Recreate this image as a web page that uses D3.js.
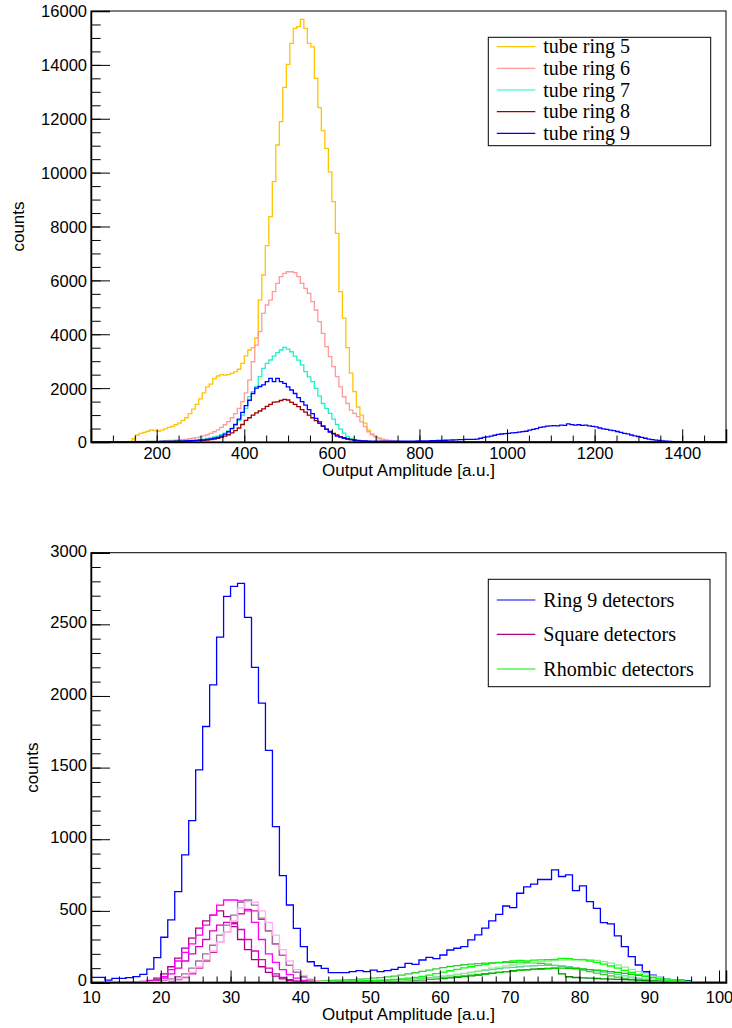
<!DOCTYPE html>
<html>
<head>
<meta charset="utf-8">
<script src="https://cdn.jsdelivr.net/npm/d3@7"></script>
<style>
  body { margin: 0; background: #fff; }
  .ax text { font-family: "Liberation Sans", Arial, sans-serif; font-size: 16.5px; fill: #000; }
  .ax path, .ax line { stroke: #000; }
  .ttl { font-family: "Liberation Sans", Arial, sans-serif; font-size: 17px; fill: #000; }
  .leg { font-family: "Liberation Serif", "Times New Roman", serif; font-size: 20px; fill: #000; }
</style>
</head>
<body>
<div id="chart"></div>
<script>
// ---------- top panel: tube rings (bins of 8 a.u.) ----------
var ringBin = 8;
var ringNames = ['tube ring 5', 'tube ring 6', 'tube ring 7', 'tube ring 8', 'tube ring 9'];
var ringColors = ['#ffc400', '#ff9a9a', '#22f0c8', '#a00000', '#0000ff'];
var ringStart = [136, 104, 104, 104, 104];
var ring5 = [20,120,260,320,360,400,450,420,400,440,490,540,580,640,700,800,900,1050,1220,1400,
  1600,1820,2050,2150,2350,2450,2500,2480,2500,2550,2600,2700,2920,3200,3415,3500,3860,5270,6200,7290,
  8365,9665,11025,11890,13165,14020,14800,15355,15420,15690,15355,14800,14670,13500,12410,11560,10900,10030,8920,7745,
  5580,4600,3500,2560,1870,1300,1000,700,440,300,200,120,70,40,20,10];
var ring6 = [5,8,10,12,15,18,20,22,25,28,30,35,40,45,50,55,60,70,80,90,
  100,120,140,160,190,230,270,320,380,450,540,640,760,900,1050,1250,1500,1820,2300,2980,
  3600,4095,4775,5085,5270,5580,5890,6140,6260,6320,6320,6290,6140,5890,5700,5520,5210,4900,4465,4030,
  3540,3170,2800,2425,2050,1680,1430,1185,1060,940,750,570,380,270,200,150,110,80,60,40,
  30,20,15,10,5];
var ring7 = [5,5,6,7,8,10,12,14,16,18,20,22,25,28,30,33,36,40,45,50,
  56,63,72,82,95,110,130,155,185,220,270,330,410,510,640,800,1000,1250,1683,1870,
  2054,2425,2734,2920,3044,3190,3315,3415,3514,3450,3350,3190,3040,2860,2610,2420,2240,1990,1700,1430,
  1250,1060,850,650,480,330,210,130,80,50,30,20,12,8,5];
var ring8 = [3,4,5,5,6,7,8,9,10,11,12,13,15,17,19,21,23,26,29,32,
  36,40,45,50,55,62,70,85,105,136,175,220,270,340,420,520,650,800,900,1000,
  1080,1150,1230,1320,1400,1480,1490,1540,1580,1560,1470,1400,1310,1200,1110,1000,900,790,690,580,
  470,390,320,260,200,160,120,90,70,50,40,30,20,15,10,8,6,5];
var ring9 = [3,4,5,6,7,8,9,10,11,12,13,15,17,19,21,23,26,29,32,36,
  40,46,52,60,70,82,97,115,140,175,220,290,380,500,650,850,1100,1350,1550,1800,
  2000,2060,2120,2240,2360,2240,2360,2240,2180,2050,1930,1800,1650,1500,1370,1200,1050,880,750,600,
  480,370,300,220,180,140,110,90,70,55,45,40,36,34,32,30,30,29,29,30,
  30,31,32,33,34,36,38,40,42,45,48,52,56,60,65,70,75,80,85,90,
  95,98,100,110,140,170,190,220,250,280,297,310,320,340,350,370,384,400,440,470,
  500,540,560,590,600,610,600,625,620,670,645,630,640,620,630,600,580,560,520,490,
  470,440,420,390,360,320,300,260,230,200,170,140,110,85,70,55,40,30,20,12,
  8,5,3];
var ringCounts = [ring5, ring6, ring7, ring8, ring9];
var topXMajor = [200, 400, 600, 800, 1000, 1200, 1400];
var topYMajor = [0, 2000, 4000, 6000, 8000, 10000, 12000, 14000, 16000];

// ---------- bottom panel: detectors (bins of 1 a.u.) ----------
var detBin = 1;
var legNames = ['Ring 9 detectors', 'Square detectors', 'Rhombic detectors'];
var legColors = ['#0000ff', '#b0007a', '#00ee00'];
var ring9Start = 10;
var ring9Det = [36,36,17,29,29,34,41,57,94,173,
  316,437,634,891,1130,1484,1787,2078,2411,2695,
  2765,2786,2548,2200,1950,1620,1088,746,541,378,
  250,145,117,99,69,69,69,76,83,76,
  87,76,83,92,106,134,127,157,176,167,
  192,227,239,250,297,332,380,430,476,534,
  523,623,667,686,719,719,786,740,751,641,
  674,565,518,418,409,325,250,180,122,75,
  52,36,24,17,17,13,6,4,4,6,3];
var squareStart = 15;
var squareColors = ['#aa0088', '#dd00cc', '#ff00ff', '#cc2299', '#a070a0', '#ffb0f0'];
var square1 = [2,4,8,15,30,60,110,170,240,310,380,430,470,500,460,390,300,230,160,110,70,45,25,15,8,4,2,1];
var square2 = [1,2,4,8,15,30,60,100,150,200,250,300,360,400,420,410,370,300,220,160,100,60,35,20,10,5,3,1];
var square3 = [2,3,5,10,20,40,90,150,210,270,330,400,470,540,576,576,570,500,420,300,200,140,90,55,30,15,8,4,2];
var square4 = [0,0,1,2,3,6,12,20,35,60,100,150,210,280,350,420,480,510,500,440,360,270,190,120,70,40,20,10,5,2];
var square5 = [0,1,2,4,8,15,25,40,60,100,150,200,260,330,400,470,560,576,540,450,360,270,190,120,70,40,20,10,5,2];
var square6 = [0,0,1,2,4,8,15,25,40,70,110,160,220,280,350,430,520,565,560,500,420,330,230,150,90,50,25,12,6,3];
var squareCounts = [square1, square2, square3, square4, square5, square6];
var rhombStart = 30;
var rhombColors = ['#33cc33', '#66cc99', '#008800', '#00cc00', '#90ee90', '#00ff00'];
var rhomb1 = [3,3,4,4,5,5,6,6,7,8, 9,10,11,12,14,16,18,20,23,26, 30,34,39,45,52,60,68,77,86,95,
  104,112,118,124,128,132,135,137,139,140, 141,142,140,138,134,128,120,112,104,95,
  86,76,66,56,46,37,29,22,16,11, 8,5,3,2,1,1,0,0,0,0];
var rhomb2 = [1,1,2,2,2,3,3,3,4,4, 5,5,6,6,7,8,8,9,10,11, 12,14,16,18,20,23,26,30,34,39,
  44,50,56,63,70,77,84,90,96,102, 106,110,114,117,119,120,118,115,110,104,
  97,90,82,73,64,55,46,38,30,23, 17,12,8,5,3,2,1,1,0,0];
var rhomb3 = [1,1,1,1,2,2,2,2,3,3, 3,3,4,4,4,5,5,6,6,7, 8,9,10,11,13,15,17,19,22,25,
  28,32,36,41,46,52,58,64,70,76, 82,86,90,94,96,98,100,60,40,35,
  32,30,28,26,24,22,20,18,16,14, 12,10,8,6,4,3,2,1,1,0];
var rhomb4 = [1,1,1,2,2,2,2,3,3,3, 4,4,4,5,5,6,6,7,8,9, 10,11,12,14,16,18,20,23,26,29,
  33,37,41,46,51,56,61,66,71,76, 80,84,88,91,94,96,98,100,99,97,
  94,90,86,81,76,70,64,57,50,43, 36,30,24,18,13,9,6,4,2,1];
var rhomb5 = [1,1,1,2,2,2,2,3,3,3, 3,4,4,4,5,5,6,6,7,8, 9,10,11,13,15,17,20,24,28,33,
  39,46,54,62,70,80,90,100,108,116, 122,128,134,140,146,150,152,156,158,160,
  162,160,154,146,135,122,108,92,76,60, 46,34,24,16,10,6,4,2,1,1];
var rhomb6 = [2,2,3,3,3,4,4,4,5,5, 5,6,6,7,7,8,9,10,11,12, 14,16,18,21,25,30,36,43,52,62,
  72,82,92,102,110,118,126,134,140,146, 150,154,150,156,158,160,162,168,166,160,
  158,150,140,128,115,100,85,70,56,44, 33,24,17,12,8,5,3,2,1,1];
var rhombCounts = [rhomb1, rhomb2, rhomb3, rhomb4, rhomb5, rhomb6];
var botXMajor = [10, 20, 30, 40, 50, 60, 70, 80, 90, 100];
var botYMajor = [0, 500, 1000, 1500, 2000, 2500, 3000];

// ---------- drawing ----------
var svg = d3.select('#chart').append('svg').attr('width', 732).attr('height', 1028);

// builds the full bin list (zero outside the given counts) as step points
function binsOf(start, width, counts, lo, hi) {
  var pts = [];
  for (var e = lo; e < hi; e += width) {
    var i = Math.round((e - start) / width);
    var c = (i >= 0 && i < counts.length) ? counts[i] : 0;
    pts.push([e, c]);
  }
  pts.push([hi, pts[pts.length - 1][1]]);
  return pts;
}

function range(a, b, s) { return d3.range(a, b + s / 2, s); }

function panel(o) {
  var g = svg.append('g');
  var x = d3.scaleLinear().domain(o.xDom).range([o.left, o.right]);
  var y = d3.scaleLinear().domain(o.yDom).range([o.bottom, o.top]);
  var clipId = 'clip' + o.id;
  g.append('clipPath').attr('id', clipId).append('rect')
    .attr('x', o.left).attr('y', o.top - 2).attr('width', o.right - o.left).attr('height', o.bottom - o.top + 2);

  var line = d3.line().curve(d3.curveStepAfter)
    .x(function(d) { return x(d[0]); })
    .y(function(d) { return y(d[1]); });

  var hg = g.append('g').attr('clip-path', 'url(#' + clipId + ')');
  o.series.forEach(function(s) {
    hg.append('path')
      .attr('d', line(binsOf(s.start, o.bin, s.counts, o.binLo, o.binHi)))
      .attr('fill', 'none').attr('stroke', s.color).attr('stroke-width', 1.3);
  });

  // frame
  g.append('rect').attr('x', o.left).attr('y', o.top)
    .attr('width', o.right - o.left).attr('height', o.bottom - o.top)
    .attr('fill', 'none').attr('stroke', '#000').attr('stroke-width', 1);

  // x axis: minor ticks then major ticks with labels (ticks point inward)
  g.append('g').attr('class', 'ax').attr('transform', 'translate(0,' + o.bottom + ')')
    .call(d3.axisBottom(x).tickValues(o.xMinor).tickSize(-o.xTickMinor).tickFormat(''))
    .call(function(a) { a.select('.domain').remove(); });
  g.append('g').attr('class', 'ax').attr('transform', 'translate(0,' + o.bottom + ')')
    .call(d3.axisBottom(x).tickValues(o.xMajor).tickSize(-o.xTickMajor).tickPadding(o.xLabPad).tickFormat(d3.format('d')))
    .call(function(a) {
      a.select('.domain').attr('stroke-width', 1.5);
      a.selectAll('text').attr('dy', '0');
    });

  g.append('g').attr('class', 'ax').attr('transform', 'translate(' + o.left + ',0)')
    .call(d3.axisLeft(y).tickValues(o.yMinor).tickSize(-o.yTickMinor).tickFormat(''))
    .call(function(a) { a.select('.domain').remove(); });
  g.append('g').attr('class', 'ax').attr('transform', 'translate(' + o.left + ',0)')
    .call(d3.axisLeft(y).tickValues(o.yMajor).tickSize(-o.yTickMajor).tickPadding(4).tickFormat(d3.format('d')))
    .call(function(a) {
      a.select('.domain').attr('stroke-width', 1.5);
      a.selectAll('text').attr('dy', o.yLabDy);
    });

  g.append('text').attr('class', 'ttl')
    .attr('x', (o.left + o.right) / 2).attr('y', o.xTitleY)
    .attr('text-anchor', 'middle').text('Output Amplitude [a.u.]');
  g.append('text').attr('class', 'ttl')
    .attr('transform', 'translate(' + o.yTitleX + ',' + (o.top + o.bottom) / 2 + ') rotate(-90)')
    .attr('text-anchor', 'middle').text('counts');

  // legend
  var lg = g.append('g');
  lg.append('rect').attr('x', o.leg.x).attr('y', o.leg.y).attr('width', o.leg.w).attr('height', o.leg.h)
    .attr('fill', '#fff').attr('stroke', '#000').attr('stroke-width', 1);
  o.leg.names.forEach(function(n, i) {
    var ly = o.leg.rows[i];
    lg.append('line').attr('x1', o.leg.x + 8.5).attr('x2', o.leg.x + 47)
      .attr('y1', ly).attr('y2', ly).attr('stroke', o.leg.colors[i]).attr('stroke-width', 1.2);
    lg.append('text').attr('class', 'leg').attr('x', o.leg.x + 55).attr('y', ly + 6.5).text(n);
  });
}

var topSeries = ringCounts.map(function(c, i) {
  return { start: ringStart[i], counts: c, color: ringColors[i] };
});
panel({
  id: 'top', left: 91, right: 726, top: 11, bottom: 442,
  xDom: [50, 1500], yDom: [0, 16000], bin: ringBin, binLo: 48, binHi: 1504,
  series: topSeries,
  xMajor: topXMajor, xMinor: range(50, 1500, 50), yMajor: topYMajor, yMinor: range(0, 16000, 500),
  xTickMajor: 12.7, xTickMinor: 6.5, yTickMajor: 19, yTickMinor: 9.7, xLabPad: 16.5, yLabDy: '0.36em',
  xTitleY: 476, yTitleX: 24,
  leg: { x: 488.3, y: 37.3, w: 222.4, h: 108.4, rows: [46.7, 68.3, 90, 111.7, 133.3],
         names: ringNames, colors: ringColors }
});

var botSeries = [{ start: ring9Start, counts: ring9Det, color: '#0000ff' }];
rhombCounts.forEach(function(c, i) { botSeries.push({ start: rhombStart, counts: c, color: rhombColors[i] }); });
squareCounts.forEach(function(c, i) { botSeries.push({ start: squareStart, counts: c, color: squareColors[i] }); });
panel({
  id: 'bot', left: 91, right: 726, top: 552.7, bottom: 982.5,
  xDom: [10, 101], yDom: [0, 3000], bin: detBin, binLo: 10, binHi: 101,
  series: botSeries,
  xMajor: botXMajor, xMinor: range(10, 100, 2), yMajor: botYMajor, yMinor: range(0, 3000, 100),
  xTickMajor: 12, xTickMinor: 6, yTickMajor: 19, yTickMinor: 9.7, xLabPad: 20.5, yLabDy: '0.2em',
  xTitleY: 1020, yTitleX: 38,
  leg: { x: 488.3, y: 579.3, w: 221.7, h: 107.4, rows: [600, 634.3, 669],
         names: legNames, colors: legColors }
});
</script>
</body>
</html>
